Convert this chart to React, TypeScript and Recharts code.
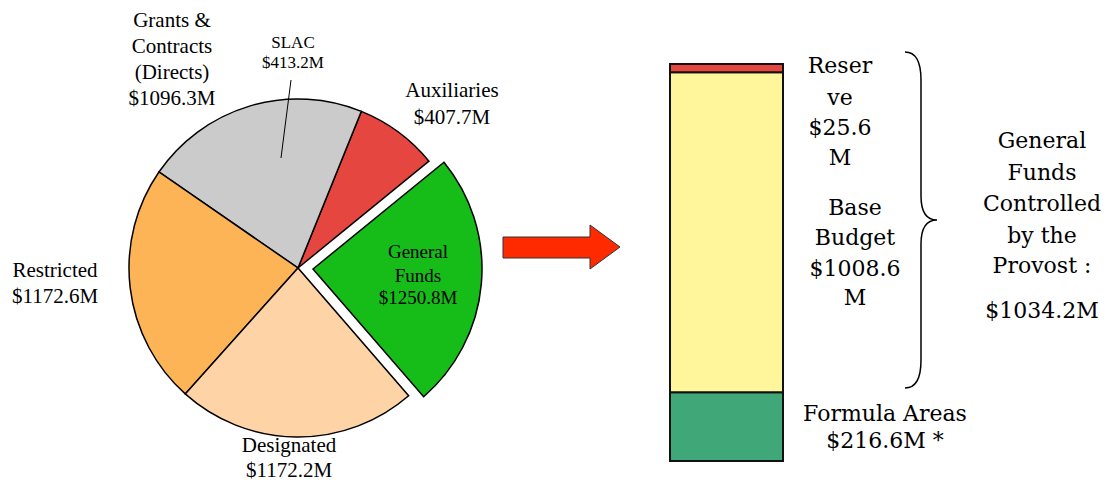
import React from "react";
import { PieChart, Pie, Cell, BarChart, Bar, XAxis, YAxis } from "recharts";

// pie slices, counter-clockwise from the exploded General Funds wedge
const pieNames = ["General Funds", "Auxiliaries", "Grants & Contracts", "Restricted", "Designated"];
const pieValues = [1250.8, 407.7, 1096.3, 1172.6, 1172.2];
const pieColors = ["#16bd19", "#e5463f", "#cbcbcb", "#fdb457", "#fed4a7"];

// General Funds split (bottom to top)
const stackNames = ["Formula Areas", "Base Budget", "Reserve"];
const stackKeys = ["formula", "base", "reserve"];
const stackValues = [216.6, 1008.6, 25.6];
const stackColors = ["#3fa778", "#fff59b", "#e5463f"];

const pieData = pieNames.map((name, i) => ({ name, value: pieValues[i] }));
const barRow: Record<string, number | string> = { name: "General Funds" };
stackKeys.forEach((k, i) => (barRow[k] = stackValues[i]));
const stackTotal = stackValues.reduce((a, b) => a + b, 0);

const PIE_START = -49.1;
const serif = "'Liberation Serif', 'Times New Roman', serif";
const school = "'DejaVu Serif', serif";

function Lines({ x, ys, lines, size, family }: { x: number; ys: number[]; lines: string[]; size: number; family: string }) {
  return (
    <>
      {lines.map((t, i) => (
        <text key={i} x={x} y={ys[i]} textAnchor="middle" dominantBaseline="central" fontSize={size} fontFamily={family} fill="#000">
          {t}
        </text>
      ))}
    </>
  );
}

export default function App() {
  return (
    <div style={{ position: "absolute", left: 0, top: 0, width: 1112, height: 482, background: "#fff", overflow: "hidden" }}>
      <div style={{ position: "absolute", left: 0, top: 0 }}>
        <PieChart width={560} height={482} margin={{ top: 0, right: 0, bottom: 0, left: 0 }}>
          <Pie
            data={pieData}
            dataKey="value"
            cx={298}
            cy={268}
            outerRadius={169}
            startAngle={PIE_START}
            endAngle={PIE_START + 360}
            stroke="#000"
            strokeWidth={1.5}
            isAnimationActive={false}
          >
            {pieData.map((d, i) => (
              <Cell key={d.name} fill={i === 0 ? "none" : pieColors[i]} stroke={i === 0 ? "none" : "#000"} />
            ))}
          </Pie>
          <Pie
            data={pieData}
            dataKey="value"
            cx={313}
            cy={269}
            outerRadius={169}
            startAngle={PIE_START}
            endAngle={PIE_START + 360}
            stroke="#000"
            strokeWidth={1.5}
            isAnimationActive={false}
          >
            {pieData.map((d, i) => (
              <Cell key={d.name} fill={i === 0 ? pieColors[0] : "none"} stroke={i === 0 ? "#000" : "none"} />
            ))}
          </Pie>
        </PieChart>
      </div>

      <div style={{ position: "absolute", left: 640, top: 0 }}>
        <BarChart width={200} height={482} data={[barRow]} margin={{ top: 64, right: 57, bottom: 21, left: 30 }} barCategoryGap={0}>
          <XAxis dataKey="name" hide />
          <YAxis hide domain={[0, stackTotal]} />
          {stackKeys.map((k, i) => (
            <Bar key={k} name={stackNames[i]} dataKey={k} stackId="gf" fill={stackColors[i]} stroke="#111" strokeWidth={2} isAnimationActive={false} />
          ))}
        </BarChart>
      </div>

      <svg width={1112} height={482} style={{ position: "absolute", left: 0, top: 0, pointerEvents: "none" }}>
        <Lines x={172} ys={[20, 46, 72, 98]} lines={["Grants &", "Contracts", "(Directs)", "$1096.3M"]} size={21} family={serif} />
        <Lines x={293} ys={[42, 62]} lines={["SLAC", "$413.2M"]} size={17} family={serif} />
        <line x1={291} y1={80} x2={281} y2={158} stroke="#000" strokeWidth={1} />
        <Lines x={452} ys={[90, 117]} lines={["Auxiliaries", "$407.7M"]} size={21} family={serif} />
        <Lines x={418} ys={[251, 275, 297]} lines={["General", "Funds", "$1250.8M"]} size={19} family={serif} />
        <Lines x={55} ys={[270, 296]} lines={["Restricted", "$1172.6M"]} size={21} family={serif} />
        <Lines x={289} ys={[445, 470]} lines={["Designated", "$1172.2M"]} size={21} family={serif} />

        <polygon points="503,237 590,237 590,225 620,247 590,269 590,258 503,258" fill="#ff2a00" stroke="#333" strokeWidth={1} />

        <Lines x={840} ys={[65, 97, 127, 157]} lines={["Reser", "ve", "$25.6", "M"]} size={22} family={school} />
        <Lines x={855} ys={[207, 237, 268, 297]} lines={["Base", "Budget", "$1008.6", "M"]} size={22} family={school} />
        <Lines x={885} ys={[413, 440]} lines={["Formula Areas", "$216.6M *"]} size={22} family={school} />
        <Lines x={1042} ys={[140, 172, 203, 235, 265, 310]} lines={["General", "Funds", "Controlled", "by the", "Provost :", "$1034.2M"]} size={22} family={school} />

        <path
          d="M905,52 Q921,52 921,80 L921,196 Q921,220 937,220 Q921,220 921,244 L921,360 Q921,388 905,388"
          fill="none"
          stroke="#000"
          strokeWidth={1.5}
        />
      </svg>
    </div>
  );
}
